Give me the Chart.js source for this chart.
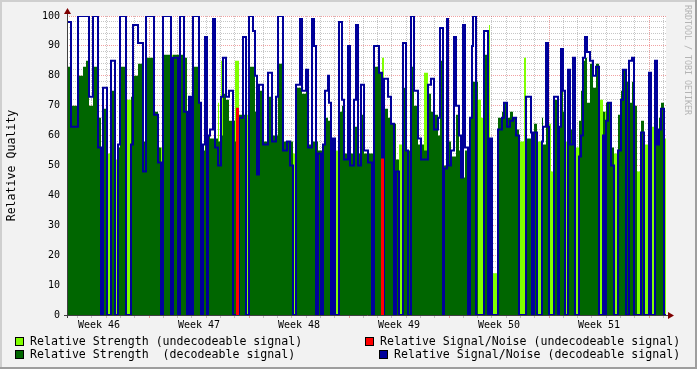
<!DOCTYPE html>
<html>
<head>
<meta charset="utf-8">
<script src="https://cdn.jsdelivr.net/npm/chart.js@4.4.0/dist/chart.umd.min.js"></script>
<style>
html, body { margin: 0; padding: 0; background: #f2f2f2; }
#wrap { position: relative; width: 697px; height: 369px; overflow: hidden; }
canvas { position: absolute; left: 0; top: 0; }
.lg { position: absolute; font: 11.6px "DejaVu Sans Mono", monospace; white-space: pre; color: #000; line-height: 13px; }
.sw { position: absolute; width: 7px; height: 7px; border: 1px solid #000; }
</style>
</head>
<body>
<div id="wrap">
  <canvas id="chart" width="697" height="369"></canvas>
  <div class="sw" style="left:15px;top:337px;background:#80ff00"></div>
  <div class="lg" style="left:30px;top:335px">Relative Strength (undecodeable signal)</div>
  <div class="sw" style="left:365px;top:337px;background:#ff0000"></div>
  <div class="lg" style="left:380px;top:335px">Relative Signal/Noise (undecodeable signal)</div>
  <div class="sw" style="left:15px;top:350px;background:#006600"></div>
  <div class="lg" style="left:30px;top:348px">Relative Strength  (decodeable signal)</div>
  <div class="sw" style="left:379px;top:350px;background:#000099"></div>
  <div class="lg" style="left:394px;top:348px">Relative Signal/Noise (decodeable signal)</div>
</div>
<script>
// one step = one consolidated rrd row
var STEP_HOURS = 1.68;
var week46Start = -18;   // step where week 46 begins (before the first row)
var weekNames = ['Week 46', 'Week 47', 'Week 48', 'Week 49', 'Week 50', 'Week 51'];

// change points: each value holds until the next step
var steps = [
  0,4,11,16,19,22,26,31,34,36,
  40,44,48,51,53,59,64,66,71,76,
  79,87,91,94,96,104,106,111,113,117,
  120,122,124,126,132,134,136,138,140,141,
  143,146,148,151,152,154,156,159,162,166,
  168,172,176,179,182,186,188,190,192,196,
  201,205,209,211,216,220,223,226,229,233,
  235,239,241,245,247,249,251,254,256,258,
  261,262,264,266,268,272,275,277,281,283,
  287,289,291,294,297,301,305,307,312,315,
  317,321,324,327,329,332,336,339,341,344,
  347,351,354,357,361,364,367,371,373,376,
  377,380,381,384,387,389,392,394,396,398,
  401,403,405,406,409,411,414,417,421,422,
  423,425,430,431,435,437,440,443,446,449,
  452,457,459,464,465,467,470,475,476,479,
  481,482,484,487,491,492,494,496,498,501,
  503,506,508,512,514,516,518,520,523,526,
  529,532,536,538,539,541,544,547,551,554,
  556,559,562,565,567,570,574,577,581,582,
  584,588,590,592,594,597,599
];

var strengthGood = [
  83,70,80,83,85,70,83,66,52,69,
  0,75,0,56,83,0,73,80,84,58,
  86,68,56,0,87,0,87,87,87,86,
  0,57,57,83,71,56,55,59,60,60,
  59,59,59,58,58,60,74,72,65,65,
  58,67,67,0,83,83,68,57,75,58,
  73,60,60,84,58,58,58,0,76,76,
  74,76,57,58,58,58,55,55,57,66,
  65,65,59,59,0,68,70,54,65,54,
  63,63,54,67,54,54,54,83,81,0,
  69,66,64,64,52,0,76,55,55,83,
  70,57,57,55,74,68,67,60,85,50,
  50,50,58,53,53,67,55,46,46,55,
  55,66,66,78,78,0,0,87,87,0,
  59,0,0,66,68,71,66,68,66,62,
  0,0,59,61,61,64,0,66,57,69,
  63,0,0,72,63,63,81,68,0,82,
  62,62,0,65,75,85,86,71,84,76,
  84,0,68,0,71,71,56,0,67,75,
  82,78,71,78,70,0,65,0,0,50,
  0,57,57,66,71,0,0
];

var strengthBad = [
  0,0,0,0,0,0,0,0,0,0,
  54,0,52,0,0,72,0,0,0,0,
  0,0,0,56,0,87,0,0,0,0,
  57,0,0,0,0,0,0,0,0,0,
  0,0,0,71,0,85,0,0,0,0,
  85,0,0,67,0,0,0,0,0,0,
  0,0,0,0,0,0,0,54,0,0,
  0,0,0,0,0,0,0,0,0,0,
  0,0,0,0,55,0,0,0,0,0,
  0,0,0,0,0,0,0,0,0,86,
  0,0,0,0,0,57,0,0,0,0,
  0,0,0,81,0,0,0,0,0,0,
  0,0,0,0,0,0,0,0,0,0,
  0,0,0,0,0,72,66,0,0,97,
  0,14,0,0,0,0,0,0,0,0,
  58,86,0,0,0,0,58,0,0,0,
  0,64,48,0,0,0,0,0,58,0,
  0,0,56,0,0,0,0,0,0,0,
  0,72,0,68,0,0,0,54,0,0,
  0,0,0,0,0,48,0,57,50,0,
  63,0,0,0,0,59,59
];

var snGood = [
  98,63,100,100,100,73,100,56,0,76,
  0,85,0,57,100,0,57,97,91,48,
  100,67,51,0,100,0,86,0,100,68,
  0,73,0,100,71,0,57,93,0,60,
  62,99,56,50,50,73,86,73,75,0,
  0,66,93,0,100,95,80,47,77,57,
  81,58,73,100,55,58,50,0,77,99,
  75,82,56,99,90,0,54,0,57,75,
  80,71,0,59,0,98,72,52,90,50,
  72,97,50,77,55,51,0,90,81,0,
  79,73,64,0,48,0,91,55,0,100,
  75,59,52,52,77,79,62,66,96,0,
  49,99,50,55,93,70,60,46,97,56,
  0,66,90,100,0,0,0,95,0,0,
  59,0,0,62,66,71,63,65,66,60,
  0,0,73,61,0,61,0,58,63,91,
  63,0,0,73,0,63,89,75,0,82,
  57,86,0,53,60,86,93,88,85,80,
  83,0,60,0,65,71,50,0,55,72,
  82,0,85,86,0,0,61,0,0,81,
  0,85,57,62,69,0,0
];

// undecodeable S/N only shows up twice
var snBadSteps = [170, 170, 171, 171, 240, 315, 315, 316, 316];
var snBad = [0, 69, 69, 0, null, 0, 52, 52, 0];

var MONO = '"DejaVu Sans Mono", monospace';
var MINOR = 'rgba(128,128,128,0.45)';
var MAJOR = 'rgba(222,48,48,0.45)';

function pts(xs, ys) {
  return xs.map(function (x, i) { return { x: x, y: ys[i] }; });
}

// x grid: one line per day, red line per week, week names in the middle
var stepsPerDay = 24 / STEP_HOURS;
var xTickList = [];
for (var d = 0; d <= 45; d++) {
  var v = week46Start + d * stepsPerDay;
  if (v <= 0.5 || v >= 599) continue;
  xTickList.push({ value: v, kind: d % 7 === 0 ? 'major' : 'minor', text: '' });
}
weekNames.forEach(function (w, i) {
  xTickList.push({ value: week46Start + (i * 7 + 3.5) * stepsPerDay, kind: 'label', text: w });
});
xTickList.sort(function (a, b) { return a.value - b.value; });

function findTick(v) {
  for (var i = 0; i < xTickList.length; i++) {
    if (Math.abs(xTickList[i].value - v) < 1e-6) return xTickList[i];
  }
  return null;
}

var frame = {
  id: 'frame',
  beforeDraw: function (chart) {
    var ctx = chart.ctx, a = chart.chartArea, w = chart.width, h = chart.height;
    ctx.save();
    ctx.fillStyle = '#f2f2f2';
    ctx.fillRect(0, 0, w, h);
    ctx.fillStyle = '#cfcfcf';
    ctx.fillRect(0, 0, w, 2);
    ctx.fillRect(0, 0, 2, h);
    ctx.fillStyle = '#9e9e9e';
    ctx.fillRect(0, h - 2, w, 2);
    ctx.fillRect(w - 2, 0, 2, h);
    ctx.fillStyle = '#ffffff';
    ctx.fillRect(a.left, a.top, a.right - a.left, a.bottom - a.top);
    ctx.restore();
  },
  afterDraw: function (chart) {
    var ctx = chart.ctx, a = chart.chartArea;
    ctx.save();
    // axes with arrows
    ctx.strokeStyle = '#404040';
    ctx.lineWidth = 1;
    ctx.beginPath();
    ctx.moveTo(a.left + 0.5, a.bottom + 3);
    ctx.lineTo(a.left + 0.5, a.top - 6);
    ctx.moveTo(a.left - 3, a.bottom + 0.5);
    ctx.lineTo(a.right + 5, a.bottom + 0.5);
    ctx.stroke();
    ctx.fillStyle = '#7f0000';
    ctx.beginPath();
    ctx.moveTo(a.left + 0.5, a.top - 8);
    ctx.lineTo(a.left - 3, a.top - 2);
    ctx.lineTo(a.left + 4, a.top - 2);
    ctx.closePath();
    ctx.fill();
    ctx.beginPath();
    ctx.moveTo(a.right + 8, a.bottom + 0.5);
    ctx.lineTo(a.right + 2, a.bottom - 3);
    ctx.lineTo(a.right + 2, a.bottom + 4);
    ctx.closePath();
    ctx.fill();
    // watermark
    ctx.translate(687, 5);
    ctx.rotate(Math.PI / 2);
    ctx.font = '8.3px ' + MONO;
    ctx.fillStyle = '#b4b4b4';
    ctx.textBaseline = 'middle';
    ctx.textAlign = 'left';
    ctx.fillText('RRDTOOL / TOBI OETIKER', 0, 0);
    ctx.restore();
  }
};

Chart.defaults.font.family = MONO;

new Chart(document.getElementById('chart'), {
  type: 'line',
  data: {
    datasets: [
      {
        label: 'Relative Signal/Noise (undecodeable signal)',
        data: pts(snBadSteps, snBad),
        borderColor: '#ff0000',
        borderWidth: 2,
        stepped: true,
        fill: false,
        spanGaps: false
      },
      {
        label: 'Relative Signal/Noise (decodeable signal)',
        data: pts(steps, snGood),
        borderColor: '#000099',
        borderWidth: 2,
        stepped: true,
        fill: false
      },
      {
        label: 'Relative Strength  (decodeable signal)',
        data: pts(steps, strengthGood),
        borderColor: 'transparent',
        borderWidth: 0,
        backgroundColor: '#006600',
        stepped: true,
        fill: 'origin'
      },
      {
        label: 'Relative Strength (undecodeable signal)',
        data: pts(steps, strengthBad),
        borderColor: 'transparent',
        borderWidth: 0,
        backgroundColor: '#80ff00',
        stepped: true,
        fill: 'origin'
      }
    ]
  },
  options: {
    responsive: false,
    animation: false,
    devicePixelRatio: 1,
    events: [],
    parsing: false,
    elements: { point: { radius: 0 } },
    layout: { padding: { left: 0, right: 31, top: 16, bottom: 0 } },
    plugins: { legend: { display: false }, tooltip: { enabled: false } },
    scales: {
      x: {
        type: 'linear',
        min: 0,
        max: 599,
        z: 1,
        afterFit: function (s) { s.height = 54; },
        afterBuildTicks: function (s) {
          s.ticks = xTickList.map(function (t) { return { value: t.value }; });
        },
        ticks: {
          autoSkip: false,
          maxRotation: 0,
          minRotation: 0,
          padding: 1,
          color: '#000',
          font: { family: MONO, size: 10 },
          callback: function (value) {
            var t = findTick(value);
            return t ? t.text : '';
          }
        },
        grid: {
          tickLength: 3,
          color: function (c) {
            var t = c.tick ? findTick(c.tick.value) : null;
            if (!t || t.kind === 'label') return 'transparent';
            return t.kind === 'major' ? MAJOR : MINOR;
          }
        },
        border: { display: false, dash: [1, 1] }
      },
      y: {
        min: 0,
        max: 100,
        z: 1,
        afterFit: function (s) { s.width = 67; },
        ticks: {
          stepSize: 2,
          autoSkip: false,
          padding: 7,
          color: '#000',
          font: { family: MONO, size: 10 },
          callback: function (v) { return v % 10 === 0 ? String(v) : ''; }
        },
        grid: {
          drawTicks: false,
          color: function (c) { return c.tick && c.tick.value % 10 === 0 ? MAJOR : MINOR; }
        },
        border: { display: false, dash: [1, 1] },
        title: {
          display: true,
          text: 'Relative Quality',
          color: '#000',
          font: { family: MONO, size: 11.6 },
          padding: { top: 5, bottom: 0 }
        }
      }
    }
  },
  plugins: [frame]
});
</script>
</body>
</html>
